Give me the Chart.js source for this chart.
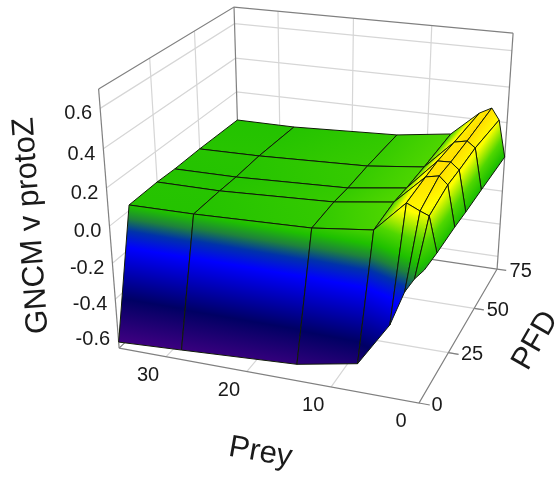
<!DOCTYPE html>
<html lang="en">
<head>
<meta charset="UTF-8">
<title>GNCM v protoZ</title>
<script src="https://cdn.jsdelivr.net/npm/chart.js"></script>
<style>
  html, body { margin: 0; padding: 0; background: #fff; }
  canvas { display: block; }
</style>
</head>
<body>
<canvas id="surface" width="556" height="477"></canvas>
<script>
// values
const preyValues = [36, 28, 14, 7, 3.5, 2, 1, 0];
const pfdValues = [0, 10, 25, 35, 50, 75];
const gncmPfd0  = [-0.645, -0.625, -0.588, -0.525, -0.288, -0.105, -0.032, 0.020];
const gncmPfd10 = [0.029, 0.031, 0.048, 0.084, 0.243, 0.212, 0.194, 0.014];
const gncmPfd25 = [0.034, 0.033, 0.059, 0.102, 0.254, 0.268, 0.228, 0.015];
const gncmPfd35 = [0.030, 0.031, 0.054, 0.096, 0.260, 0.263, 0.227, 0.010];
const gncmPfd50 = [0.033, 0.037, 0.059, 0.094, 0.250, 0.264, 0.232, 0.008];
const gncmPfd75 = [0.029, 0.028, 0.055, 0.098, 0.237, 0.273, 0.210, 0.002];
const gncmRows = [gncmPfd0, gncmPfd10, gncmPfd25, gncmPfd35, gncmPfd50, gncmPfd75];

const zTicks = [-0.6, -0.4, -0.2, 0.0, 0.2, 0.4, 0.6];
const preyTicks = [0, 10, 20, 30];
const pfdTicks = [0, 25, 50, 75];

const preyMax = 36, pfdMax = 75, zMin = -0.68, zMax = 0.694;

// colour ramp of the surface
const rampZ = [-0.68, -0.43, -0.18, -0.10, -0.04, 0.02, 0.10, 0.21, 0.28];
const rampColors = ['#4b0087', '#000064', '#0000ff', '#0032aa', '#1e823c', '#1ec000', '#50d700', '#ffff00', '#ffd700'];

const gridColor = '#d6d6d6';
const frameColor = '#808080';
const meshColor = '#101a08';
const FONT = '"Liberation Sans", Arial, sans-serif';

// camera: three point perspective fitted to the box corners
function project(prey, pfd, z) {
    const u = prey / preyMax, v = pfd / pfdMax, t = (z - zMin) / (zMax - zMin);
    const w = 1 + 0.0768 * u + 0.206 * v - 0.0999 * t;
    return {
        x: (419 - 290.7 * u + 180.5 * v - 31.97 * t) / w,
        y: (403 - 28.19 * u - 78.5 * v - 287.9 * t) / w
    };
}

const datasets = [];

function addLine(points, color, width) {
    datasets.push({
        data: points, showLine: true, fill: false, borderColor: color,
        borderWidth: width, pointRadius: 0, tension: 0
    });
}

// one linear gradient per cell: plane through its corners, least squares.
// the jumps between cells sit under the mesh lines
function cellGradient(chart, corners) {
    const sx = chart.scales.x, sy = chart.scales.y;
    const p = corners.map(c => ({ x: sx.getPixelForValue(c.p.x), y: sy.getPixelForValue(c.p.y), z: c.z }));
    // options also get resolved once before the scales are laid out
    if (!p.every(q => isFinite(q.x) && isFinite(q.y))) return rampColors[0];
    const n = p.length;
    const mx = p.reduce((s, q) => s + q.x, 0) / n;
    const my = p.reduce((s, q) => s + q.y, 0) / n;
    const mz = p.reduce((s, q) => s + q.z, 0) / n;
    let xx = 0, xy = 0, yy = 0, xz = 0, yz = 0;
    p.forEach(q => {
        const dx = q.x - mx, dy = q.y - my, dz = q.z - mz;
        xx += dx * dx; xy += dx * dy; yy += dy * dy; xz += dx * dz; yz += dy * dz;
    });
    const det = xx * yy - xy * xy;
    let gx = 0, gy = 0;
    if (Math.abs(det) > 1e-6) {
        gx = (xz * yy - yz * xy) / det;
        gy = (yz * xx - xz * xy) / det;
    }
    if (gx * gx + gy * gy < 1e-10) {
        gx = 0; gy = 1e-3;
    }
    const l2 = gx * gx + gy * gy;
    const lo = rampZ[0], hi = rampZ[rampZ.length - 1];
    const x0 = mx - (mz - lo) * gx / l2, y0 = my - (mz - lo) * gy / l2;
    const x1 = mx + (hi - mz) * gx / l2, y1 = my + (hi - mz) * gy / l2;
    const grad = chart.ctx.createLinearGradient(x0, y0, x1, y1);
    rampZ.forEach((z, i) => grad.addColorStop((z - lo) / (hi - lo), rampColors[i]));
    return grad;
}

function addCell(corners) {
    const outline = corners.map(c => c.p);
    outline.push(corners[0].p);
    datasets.push({
        data: outline, showLine: true, fill: 'shape',
        backgroundColor: ctx => cellGradient(ctx.chart, corners),
        borderColor: meshColor, borderWidth: 1,
        pointRadius: 0, tension: 0
    });
}

// walls and floor
zTicks.forEach(z => {
    addLine([project(preyMax, 0, z), project(preyMax, pfdMax, z), project(0, pfdMax, z)], gridColor, 1.2);
});
[25, 50].forEach(pfd => {
    addLine([project(preyMax, pfd, zMax), project(preyMax, pfd, zMin), project(0, pfd, zMin), project(-1.2, pfd, zMin)], gridColor, 1.2);
});
[10, 20, 30].forEach(prey => {
    addLine([project(prey, pfdMax, zMax), project(prey, pfdMax, zMin), project(prey, 0, zMin)], gridColor, 1.2);
});
addLine([project(preyMax, 0, zMax), project(preyMax, pfdMax, zMax), project(0, pfdMax, zMax)], frameColor, 1.2);
addLine([project(preyMax, 0, zMin), project(preyMax, 0, zMax)], frameColor, 1.2);
addLine([project(preyMax, pfdMax, zMin), project(preyMax, pfdMax, zMax)], frameColor, 1.2);
addLine([project(0, pfdMax, zMin), project(0, pfdMax, zMax)], frameColor, 1.2);
addLine([project(preyMax, 0, zMin), project(preyMax, pfdMax, zMin), project(0, pfdMax, zMin)], frameColor, 1.2);
addLine([project(preyMax, 0, zMin), project(0, 0, zMin), project(0, pfdMax, zMin)], frameColor, 1.2);
pfdTicks.forEach(pfd => {
    addLine([project(0, pfd, zMin), project(-1.2, pfd, zMin)], frameColor, 1.2);
});

// surface, far cells first so the near ones cover them
for (let r = pfdValues.length - 2; r >= 0; r--) {
    for (let c = 0; c < preyValues.length - 1; c++) {
        const node = (i, j) => ({
            p: project(preyValues[j], pfdValues[i], gncmRows[i][j]),
            z: gncmRows[i][j]
        });
        addCell([node(r, c), node(r, c + 1), node(r + 1, c + 1), node(r + 1, c)]);
    }
}

// first dataset is painted last in Chart.js, so count down
datasets.forEach((ds, i) => { ds.order = datasets.length - i; });

const axisText = {
    id: 'axisText',
    afterDatasetsDraw(chart) {
        const ctx = chart.ctx, sx = chart.scales.x, sy = chart.scales.y;
        const px = p => ({ x: sx.getPixelForValue(p.x), y: sy.getPixelForValue(p.y) });
        ctx.save();
        ctx.fillStyle = '#1a1a1a';
        ctx.textBaseline = 'middle';
        ctx.font = '20px ' + FONT;

        ctx.textAlign = 'right';
        zTicks.forEach(z => {
            const p = px(project(preyMax, 0, z));
            ctx.fillText(z.toFixed(1), p.x - 8, p.y + 5.5);
        });
        ctx.textAlign = 'center';
        preyTicks.forEach(prey => {
            const p = px(project(prey, 0, zMin));
            ctx.fillText(String(prey), p.x - 18, p.y + 18.5);
        });
        ctx.textAlign = 'left';
        pfdTicks.forEach(pfd => {
            const p = px(project(0, pfd, zMin));
            ctx.fillText(String(pfd), p.x + 12.5, p.y + 2);
        });

        ctx.textAlign = 'center';
        ctx.textBaseline = 'alphabetic';
        ctx.font = '31px ' + FONT;
        const title = (text, x, y, deg) => {
            ctx.save();
            ctx.translate(x, y);
            ctx.rotate(deg * Math.PI / 180);
            ctx.fillText(text, 0, 0);
            ctx.restore();
        };
        title('GNCM v protoZ', 40, 225, -94);
        title('Prey', 259, 461, 10);
        title('PFD', 543, 345, -60);
        ctx.restore();
    }
};

new Chart(document.getElementById('surface').getContext('2d'), {
    type: 'scatter',
    data: { datasets: datasets },
    options: {
        responsive: false,
        animation: false,
        devicePixelRatio: 1,
        layout: { padding: 0 },
        events: [],
        plugins: { legend: { display: false }, tooltip: { enabled: false } },
        scales: {
            x: { type: 'linear', min: 0, max: 556, display: false },
            y: { type: 'linear', min: 0, max: 477, reverse: true, display: false }
        }
    },
    plugins: [axisText]
});
</script>
</body>
</html>
